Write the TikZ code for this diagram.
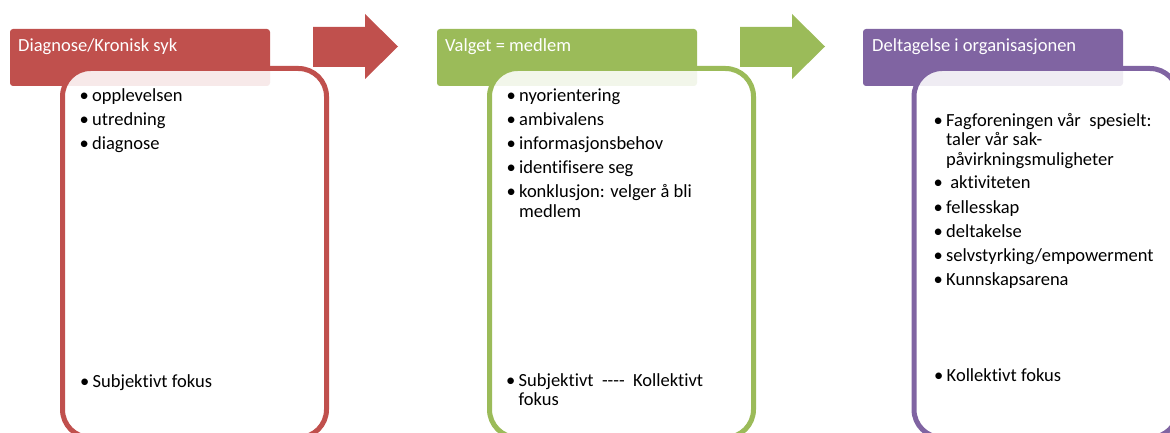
\documentclass[tikz,border=0pt]{standalone}
\usepackage{fontspec}
\setmainfont{Carlito}[Ligatures={NoCommon}]
\definecolor{redbox}{HTML}{C0504D}
\definecolor{greenbox}{HTML}{9BBB59}
\definecolor{purplebox}{HTML}{8064A2}
\newcommand{\itm}[1]{\makebox[12.5pt][l]{\textbullet}\begin{tabular}[t]{@{}l@{}}#1\end{tabular}}

\begin{document}
\begin{tikzpicture}[x=1pt,y=-1pt,
    every node/.style={font=\fontsize{18.5pt}{19.5pt}\selectfont},
    header/.style={fill=#1,rounded corners=3pt,minimum width=260pt,
      minimum height=57pt,inner sep=0pt,outer sep=0pt,anchor=north west},
    body/.style={draw=#1,line width=5pt,fill=white,fill opacity=.88,
      rounded corners=28pt,minimum width=264pt,minimum height=369pt,
      inner sep=0pt,outer sep=0pt,anchor=north west},
    title/.style={text=white,anchor=base west,inner sep=0pt},
    entry/.style={anchor=base west,inner sep=0pt}]
    \useasboundingbox (0,0) rectangle (1170,433);
    \clip (0,0) rectangle (1170,433);
    % first step
    \begin{scope}[shift={(10,0)}]
      \node[header=redbox] (hd1) at (0,29) {};
      \node[body=redbox] (bd1) at (52.5,68.5) {};
      \node[title] (tt1) at (8,52) {Diagnose/Kronisk syk};
      \node[entry] (p1a) at (69.5,101.5) {\itm{opplevelsen}};
      \node[entry] (p1b) at (69.5,125.5) {\itm{utredning}};
      \node[entry] (p1c) at (69.5,149.5) {\itm{diagnose}};
      \node[entry] (p1d) at (70,387) {\itm{Subjektivt fokus}};
      \fill[redbox] (303,27) -- (355,27) -- (355,14) -- (388,46.5)
        -- (355,79) -- (355,67) -- (303,67) -- cycle;
    \end{scope}
    % second step
    \begin{scope}[shift={(437,0)}]
      \node[header=greenbox] (hd2) at (0,29) {};
      \node[body=greenbox] (bd2) at (52.5,68.5) {};
      \node[title] (tt2) at (8,52) {Valget = medlem};
      \node[entry] (p2a) at (69.5,101.5) {\itm{nyorientering}};
      \node[entry] (p2b) at (69.5,125.5) {\itm{ambivalens}};
      \node[entry] (p2c) at (69.5,149.5) {\itm{informasjonsbehov}};
      \node[entry] (p2d) at (69.5,173.5) {\itm{identifisere seg}};
      \node[entry] (p2e) at (69.5,197.5) {\itm{konklusjon: velger å bli\\medlem}};
      \node[entry] (p2f) at (69,386) {\itm{Subjektivt\ \ {-}{-}{-}{-}\ \ Kollektivt\\fokus}};
      \fill[greenbox] (303,27) -- (355,27) -- (355,14) -- (388,46.5)
        -- (355,79) -- (355,67) -- (303,67) -- cycle;
    \end{scope}
    % third step
    \begin{scope}[shift={(863,0)}]
      \node[header=purplebox] (hd3) at (0,29) {};
      \node[body=purplebox] (bd3) at (51,68.5) {};
      \node[title] (tt3) at (9,52) {Deltagelse i organisasjonen};
      \node[entry] (p3a) at (70.5,126.5) {\itm{Fagforeningen vår\ \ spesielt:\\taler vår sak-\\påvirkningsmuligheter}};
      \node[entry] (p3b) at (70.5,189) {\itm{\ aktiviteten}};
      \node[entry] (p3c) at (70.5,213) {\itm{fellesskap}};
      \node[entry] (p3d) at (70.5,237) {\itm{deltakelse}};
      \node[entry] (p3e) at (70.5,261) {\itm{selvstyrking/empowerment}};
      \node[entry] (p3f) at (70.5,285) {\itm{Kunnskapsarena}};
      \node[entry] (p3g) at (71,381) {\itm{Kollektivt fokus}};
    \end{scope}
\end{tikzpicture}
\end{document}
